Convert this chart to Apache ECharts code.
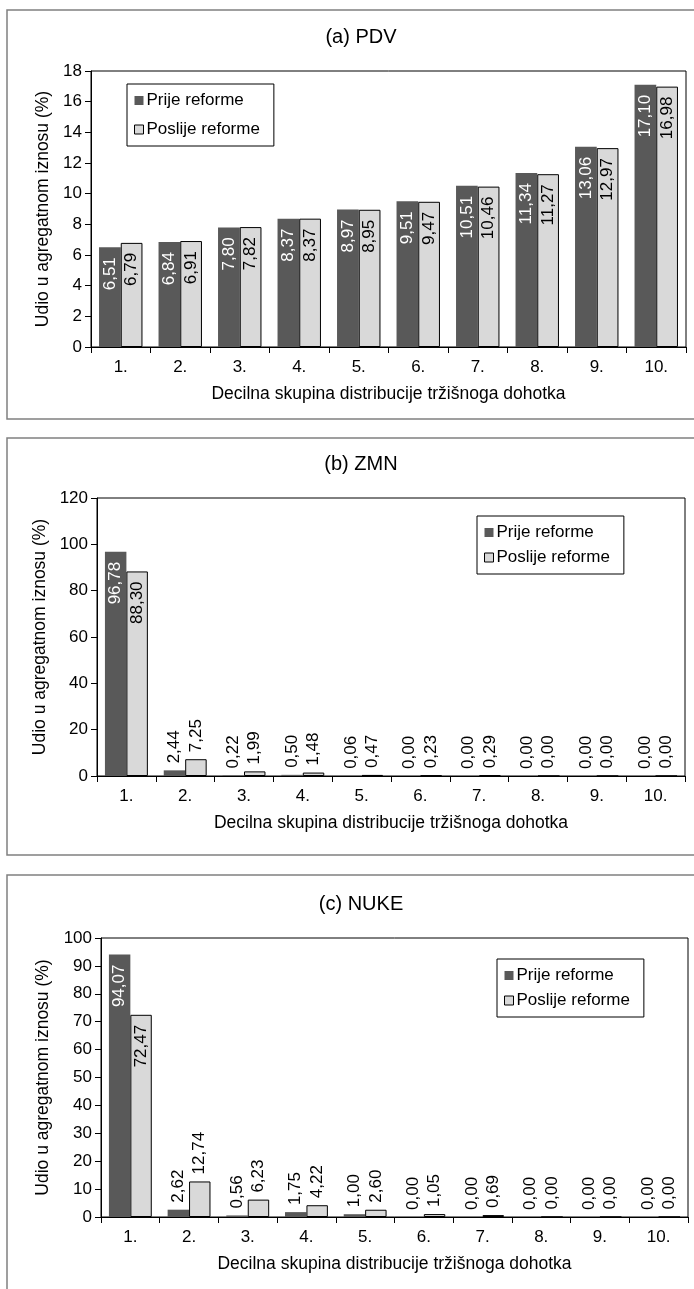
<!DOCTYPE html>
<html>
<head>
<meta charset="utf-8">
<script src="https://cdn.jsdelivr.net/npm/echarts@6/dist/echarts.min.js"></script>
<style>
html,body{margin:0;padding:0;background:#fff;}
#chart{width:694px;height:1289px;}
</style>
</head>
<body>
<div id="chart"></div>
<script>
const categories = ['1.', '2.', '3.', '4.', '5.', '6.', '7.', '8.', '9.', '10.'];
const seriesNames = ['Prije reforme', 'Poslije reforme'];
const panelTitles = ['(a) PDV', '(b) ZMN', '(c) NUKE'];
const yAxisName = 'Udio u agregatnom iznosu (%)';
const xAxisName = 'Decilna skupina distribucije tržišnoga dohotka';

const pdvBefore = [6.51, 6.84, 7.80, 8.37, 8.97, 9.51, 10.51, 11.34, 13.06, 17.10];
const pdvAfter  = [6.79, 6.91, 7.82, 8.37, 8.95, 9.47, 10.46, 11.27, 12.97, 16.98];
const zmnBefore = [96.78, 2.44, 0.22, 0.50, 0.06, 0.00, 0.00, 0.00, 0.00, 0.00];
const zmnAfter  = [88.30, 7.25, 1.99, 1.48, 0.47, 0.23, 0.29, 0.00, 0.00, 0.00];
const nukeBefore = [94.07, 2.62, 0.56, 1.75, 1.00, 0.00, 0.00, 0.00, 0.00, 0.00];
const nukeAfter  = [72.47, 12.74, 6.23, 4.22, 2.60, 1.05, 0.69, 0.00, 0.00, 0.00];

const yTicksPdv = [0, 18, 2];
const yTicksZmn = [0, 120, 20];
const yTicksNuke = [0, 100, 10];

const FONT = '"Liberation Sans", Arial, sans-serif';
const DARK = '#595959';
const LIGHT = '#d9d9d9';

const fmt = v => v.toFixed(2).replace('.', ',');

// layout
const grids = [
  {left: 91, top: 71, width: 595, height: 276},
  {left: 97, top: 498, width: 588, height: 278},
  {left: 101, top: 938, width: 587, height: 279}
];
const titleY = [36, 463, 903];
const yNameGap = [39, 45, 49];
const legends = [
  {left: 127, top: 84, gap: 12},
  {left: 477, top: 516, gap: 8},
  {left: 497, top: 959, gap: 8}
];
const ticks = [yTicksPdv, yTicksZmn, yTicksNuke];
const panels = [
  [pdvBefore, pdvAfter],
  [zmnBefore, zmnAfter],
  [nukeBefore, nukeAfter]
];
const insideThreshold = [0, 50, 50];

function makeData(values, idx, dark) {
  const color = dark ? '#ffffff' : '#000000';
  return values.map(v => {
    const inside = v > insideThreshold[idx];
    return {
      value: v,
      label: inside
        ? {position: 'insideTop', align: 'right', verticalAlign: 'middle', distance: 10, color: color}
        : {position: 'top', align: 'left', verticalAlign: 'middle', distance: 7, color: '#000'}
    };
  });
}

const option = {
  animation: false,
  backgroundColor: '#fff',
  textStyle: {fontFamily: FONT},
  title: panelTitles.map((t, i) => ({
    text: t, left: 356, top: titleY[i] - 14, textAlign: 'center',
    textStyle: {fontFamily: FONT, fontSize: 20, fontWeight: 'normal', color: '#000'}
  })),
  graphic: [
    {type: 'rect', shape: {x: 7, y: 10, width: 720, height: 409}, style: {fill: 'none', stroke: '#808080', lineWidth: 1.5}},
    {type: 'rect', shape: {x: 7, y: 438, width: 720, height: 417}, style: {fill: 'none', stroke: '#808080', lineWidth: 1.5}},
    {type: 'rect', shape: {x: 7, y: 875, width: 720, height: 440}, style: {fill: 'none', stroke: '#808080', lineWidth: 1.5}}
  ],
  legend: legends.map(l => ({
    orient: 'vertical', left: l.left, top: l.top,
    itemWidth: 9, itemHeight: 9, itemGap: l.gap,
    padding: [8, 14, 8, 7],
    borderColor: '#000', borderWidth: 1,
    icon: 'rect',
    textStyle: {fontFamily: FONT, fontSize: 17, color: '#000', padding: [0, 0, 0, -2]},
    data: [
      {name: seriesNames[0], itemStyle: {color: DARK, borderWidth: 0}},
      {name: seriesNames[1], itemStyle: {color: LIGHT, borderColor: '#000', borderWidth: 1}}
    ],
    selectedMode: false
  })),
  grid: grids.map(g => Object.assign({show: true, borderColor: '#000', borderWidth: 1, backgroundColor: 'transparent'}, g)),
  xAxis: grids.map((g, i) => ({
    type: 'category', gridIndex: i, data: categories,
    name: xAxisName, nameLocation: 'middle', nameGap: 38,
    nameTextStyle: {fontFamily: FONT, fontSize: 17.5, color: '#000'},
    axisLine: {lineStyle: {color: '#000', width: 1}},
    axisTick: {show: true, inside: false, length: 6, alignWithLabel: false, lineStyle: {color: '#000'}},
    axisLabel: {fontFamily: FONT, fontSize: 17, color: '#000', margin: 12},
    splitLine: {show: false}
  })),
  yAxis: grids.map((g, i) => ({
    type: 'value', gridIndex: i, min: ticks[i][0], max: ticks[i][1], interval: ticks[i][2],
    name: yAxisName, nameLocation: 'middle', nameGap: yNameGap[i],
    nameTextStyle: {fontFamily: FONT, fontSize: 17.5, color: '#000'},
    axisLine: {show: true, lineStyle: {color: '#000', width: 1}},
    axisTick: {show: true, inside: false, length: 6, lineStyle: {color: '#000'}},
    axisLabel: {fontFamily: FONT, fontSize: 17, color: '#000', margin: 9},
    splitLine: {show: false}
  })),
  series: []
};

panels.forEach((pair, i) => {
  pair.forEach((vals, s) => {
    const dark = s === 0;
    option.series.push({
      type: 'bar', name: seriesNames[s], xAxisIndex: i, yAxisIndex: i,
      data: makeData(vals, i, dark),
      barGap: '0%', barCategoryGap: '27%',
      itemStyle: dark ? {color: DARK} : {color: LIGHT, borderColor: '#000', borderWidth: 1},
      label: {
        show: true, rotate: 90, fontFamily: FONT, fontSize: 17,
        formatter: p => fmt(p.value)
      },
      emphasis: {disabled: true}
    });
  });
});

const chart = echarts.init(document.getElementById('chart'), null, {renderer: 'canvas'});
chart.setOption(option);
</script>
</body>
</html>
